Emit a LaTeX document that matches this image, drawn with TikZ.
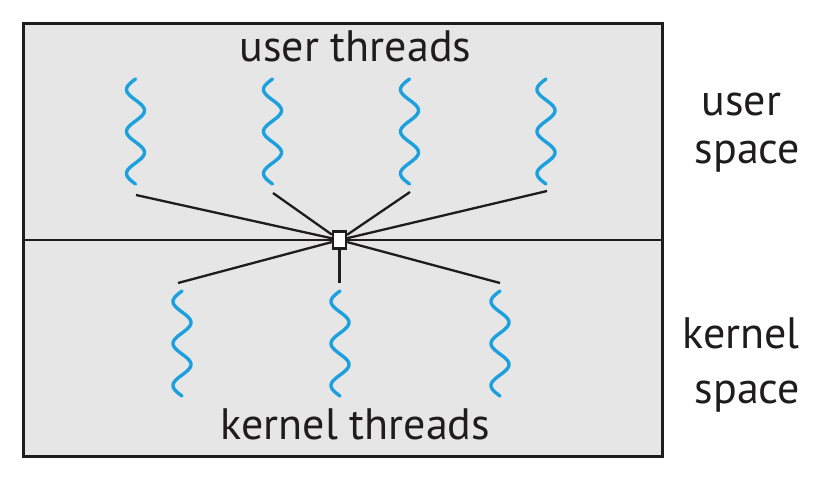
\documentclass[tikz,border=0pt]{standalone}
\usepackage{fontspec}
\setmainfont{PT Sans}
\definecolor{panel}{RGB}{230,230,230}
\definecolor{wavecol}{RGB}{28,160,222}
\definecolor{ink}{RGB}{30,28,29}
\begin{document}
\begin{tikzpicture}[x=1pt,y=-1pt,
  threadwave/.style={draw=wavecol, line width=3.4pt, line cap=round},
  link/.style={draw=ink, line width=2.3pt},
  lbl/.style={font=\fontsize{44}{52}\selectfont, text=ink, anchor=base, inner sep=0pt}]
\useasboundingbox (0,0) rectangle (826,477);
\fill[white] (0,0) rectangle (826,477);
\draw[fill=panel, draw=ink, line width=3pt] (23.5,23.5) rectangle (662.5,456.5);
\coordinate (L) at (24,240);
\coordinate (R) at (662,240);
\draw[link] (L) -- (R);
\node[draw=ink, fill=white, line width=2.3pt, minimum width=13pt, minimum height=17pt, inner sep=0pt] (sq) at (339.5,240) {};
% user threads
\foreach \cx in {135.5,272.5,409.5,546}{
  \draw[threadwave] plot[domain=0:5,samples=100,smooth] ({\cx-9*sin(\x*180)},{79+21*\x});
}
% kernel threads
\foreach \cx in {182,340,500}{
  \draw[threadwave] plot[domain=0:5,samples=100,smooth] ({\cx-9*sin(\x*180)},{291+21*\x});
}
\coordinate (u1) at (136,195);
\coordinate (u2) at (273,193);
\coordinate (u3) at (410,192);
\coordinate (u4) at (547,191);
\coordinate (k1) at (178,283);
\coordinate (k2) at (339.5,283);
\coordinate (k3) at (500,283);
\foreach \e in {u1,u2,u3,u4,k1,k2,k3}{
  \draw[link] (\e) -- (sq);
}
\node[lbl] (ut) at (355.5,61) {user threads};
\node[lbl] (kt) at (355.5,439) {kernel threads};
\node[lbl] (us1) at (741.5,115) {user};
\node[lbl] (us2) at (747.5,163) {space};
\node[lbl] (ks1) at (741,348) {kernel};
\node[lbl] (ks2) at (747.5,403) {space};
\end{tikzpicture}
\end{document}
